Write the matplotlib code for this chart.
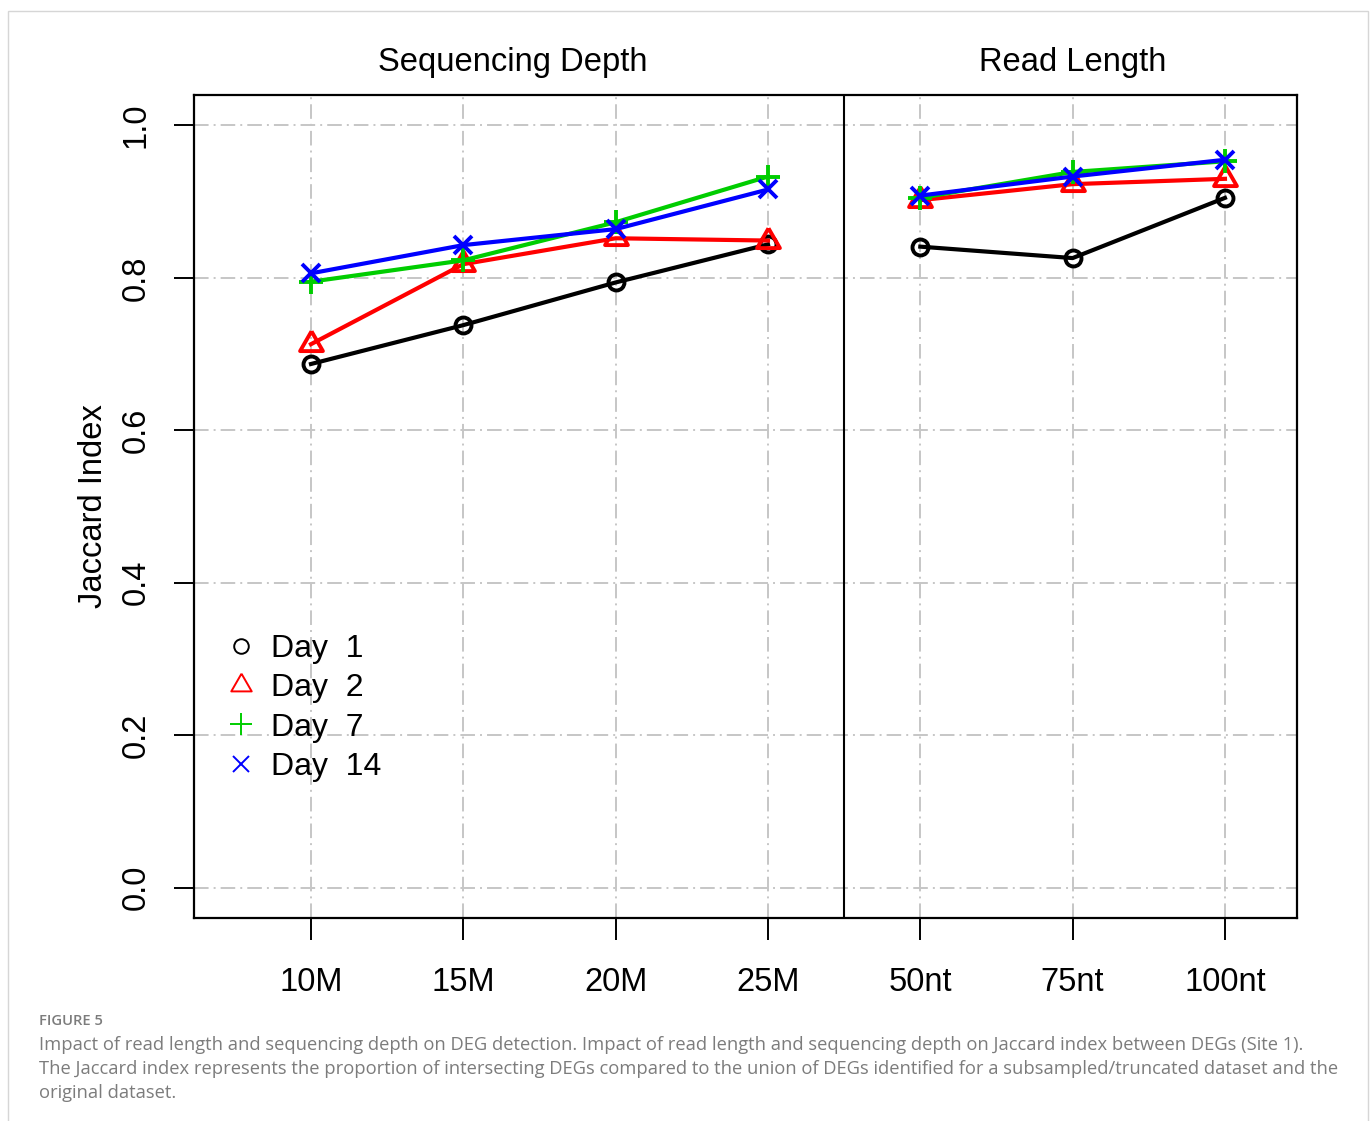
import matplotlib
matplotlib.use("Agg")
import matplotlib.pyplot as plt
from matplotlib.lines import Line2D
from matplotlib.patches import Rectangle

# ---- data -------------------------------------------------------------
depth_labels = ["10M", "15M", "20M", "25M"]
length_labels = ["50nt", "75nt", "100nt"]
days = ["Day  1", "Day  2", "Day  7", "Day  14"]

# Jaccard index per day: sequencing depth (10M..25M), read length (50..100nt)
day1_depth = [0.687, 0.738, 0.794, 0.844]
day1_length = [0.841, 0.826, 0.905]
day2_depth = [0.713, 0.818, 0.852, 0.849]
day2_length = [0.902, 0.923, 0.930]
day7_depth = [0.795, 0.823, 0.873, 0.933]
day7_length = [0.905, 0.939, 0.953]
day14_depth = [0.806, 0.843, 0.864, 0.916]
day14_length = [0.908, 0.933, 0.955]

y_ticks = [0.0, 0.2, 0.4, 0.6, 0.8, 1.0]

# ---- styling ----------------------------------------------------------
FONT = "Liberation Sans"
colors = ["#000000", "#FF0000", "#00CD00", "#0000FF"]
# triangle with its centroid on the data point
tri = [(0, 1), (-0.866, -0.5), (0.866, -0.5), (0, 1)]
markers = ["o", tri, "+", "x"]
msizes = [11.5, 19, 17, 13]
leg_msizes = [10.5, 17, 16, 12]

W, H = 1372, 1121
fig = plt.figure(figsize=(W / 100, H / 100), dpi=100)
fig.patch.set_facecolor("white")

# light card border
fig.add_artist(Rectangle((8 / W, -0.05), (1368 - 8) / W, (H - 11) / H + 0.05,
                         transform=fig.transFigure, fill=False,
                         edgecolor="#d6d6d6", linewidth=1.0))

ax = fig.add_axes([194 / W, (H - 918) / H, (1297 - 194) / W, (918 - 95) / H])

labels = depth_labels + length_labels
x_depth = list(range(1, len(depth_labels) + 1))
x_length = list(range(len(depth_labels) + 1, len(labels) + 1))

# dot-dash grid
grid_kw = dict(color="#c6c6c6", linewidth=1.4, dashes=(7.5, 2.6, 1.0, 2.6), zorder=0)
for yv in y_ticks:
    ax.axhline(yv, **grid_kw)
for xv in x_depth + x_length:
    ax.axvline(xv, **grid_kw)

series = [
    (day1_depth, day1_length),
    (day2_depth, day2_length),
    (day7_depth, day7_length),
    (day14_depth, day14_length),
]
for (d, l), c, m, ms in zip(series, colors, markers, msizes):
    for xs, ys in ((x_depth, d), (x_length, l)):
        ax.plot(xs, ys, color=c, linewidth=3, marker=m, markersize=ms,
                markerfacecolor="none", markeredgecolor=c, markeredgewidth=2.8,
                zorder=3)

# panel divider
ax.axvline((x_depth[-1] + x_length[0]) / 2, color="black", linewidth=1.5, zorder=2)

ax.set_xlim(0.232, 7.473)
ax.set_ylim(-0.04, 1.04)

for s in ax.spines.values():
    s.set_linewidth(1.6)

ax.set_xticks(x_depth + x_length)
ax.set_xticklabels(labels, fontsize=23.5, family=FONT)
ax.set_yticks(y_ticks)
ax.set_yticklabels([f"{v:.1f}" for v in y_ticks], fontsize=23.5, family=FONT,
                   rotation=90, va="center")
ax.tick_params(axis="x", direction="out", length=16, width=1.4, pad=19)
ax.tick_params(axis="y", direction="out", length=14.5, width=1.4, pad=16)

# panel titles and axis label
fig.text(513 / W, 1 - 63 / H, "Sequencing Depth", ha="center", va="center",
         fontsize=23.6, family=FONT)
fig.text(1073 / W, 1 - 63 / H, "Read Length", ha="center", va="center",
         fontsize=23.6, family=FONT)
fig.text(93 / W, 1 - 506 / H, "Jaccard Index", ha="center", va="center",
         rotation=90, fontsize=23.6, family=FONT)

# legend
handles = [Line2D([], [], linestyle="none", marker=m, markersize=ms,
                  markerfacecolor="none", markeredgecolor=c, markeredgewidth=1.4)
           for c, m, ms in zip(colors, markers, leg_msizes)]
ax.legend(handles, days, loc="upper left",
          bbox_to_anchor=(226 / W, 1 - 634 / H), bbox_transform=fig.transFigure,
          frameon=False, borderpad=0, borderaxespad=0, handlelength=0.95,
          handletextpad=0.45, labelspacing=0.29,
          prop={"family": FONT, "size": 23})

# caption
cap_kw = dict(family="Open Sans", color="#7c7c7c", ha="left", va="center")
fig.text(39 / W, 1 - 1021 / H, "FIGURE 5", fontsize=10.6, weight="semibold", **cap_kw)
caption = [
    "Impact of read length and sequencing depth on DEG detection. Impact of read length and sequencing depth on Jaccard index between DEGs (Site 1).",
    "The Jaccard index represents the proportion of intersecting DEGs compared to the union of DEGs identified for a subsampled/truncated dataset and the",
    "original dataset.",
]
for i, line in enumerate(caption):
    fig.text(39 / W, 1 - (1045 + 24 * i) / H, line, fontsize=13.2, **cap_kw)

fig.savefig("out.png", dpi=100)
